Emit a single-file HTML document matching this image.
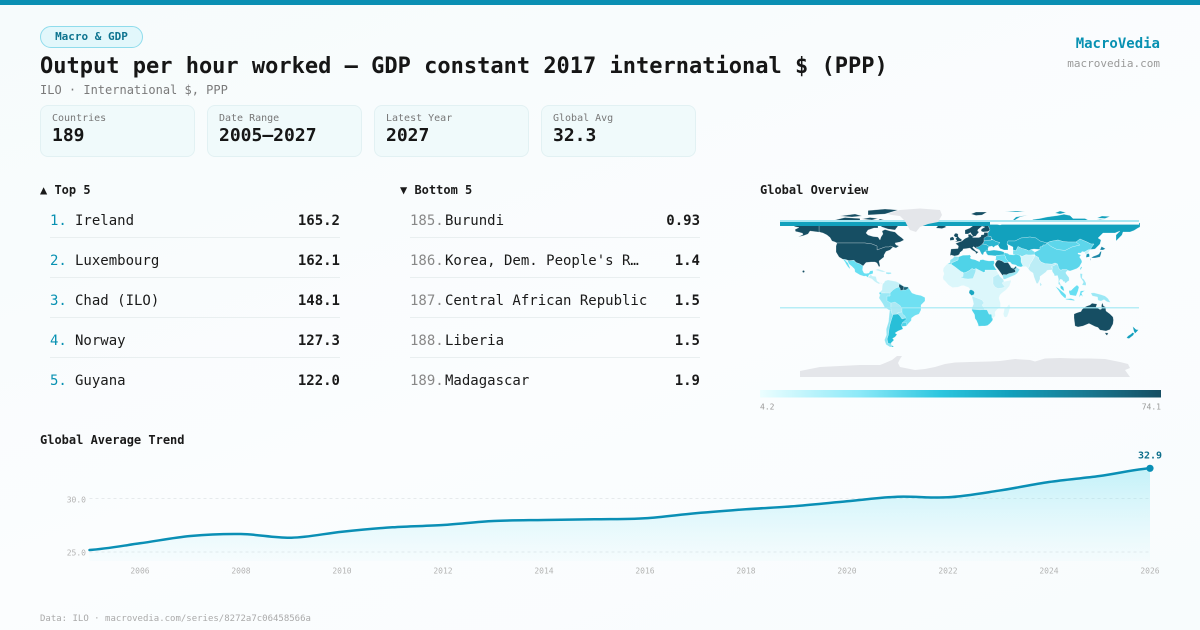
<!DOCTYPE html>
<html><head><meta charset="utf-8">
<style>
*{margin:0;padding:0;box-sizing:border-box}
html,body{width:1200px;height:630px;overflow:hidden}
body{position:relative;background:linear-gradient(160deg,#f6fbfc 0%,#fbfdfe 55%,#f8fcfd 100%);font-family:"DejaVu Sans Mono","Liberation Mono",monospace;color:#1a1a1a}
.a{position:absolute;white-space:nowrap}
.card{position:absolute;top:105px;width:155px;height:52px;background:#f0fafb;border:1px solid #e2f1f3;border-radius:8px}
.card .l{position:absolute;left:11px;top:8px;font-size:10px;line-height:10px;color:#777}
.card .v{position:absolute;left:11px;top:21px;font-size:18px;line-height:18px;font-weight:bold;color:#161616}
.row{position:absolute;height:14px;font-size:14px;line-height:14px}
.div{position:absolute;height:1px;background:#e9eff0}
.h{font-size:12px;line-height:12px;font-weight:bold;color:#1a1a1a}
</style></head><body>
<div class="a" style="left:0;top:0;width:1200px;height:5px;background:#0a8fb3"></div>

<div class="a" style="left:40px;top:26px;width:103px;height:22px;border:1px solid #8fdcec;background:#e2f7fb;border-radius:11px;font-size:11px;line-height:20px;font-weight:bold;color:#0e7490;text-align:center">Macro &amp; GDP</div>
<div class="a" style="left:40px;top:56px;font-size:22px;line-height:22px;font-weight:bold;color:#161616">Output per hour worked — GDP constant 2017 international $ (PPP)</div>
<div class="a" style="left:40px;top:83.5px;font-size:12px;line-height:12px;color:#7a7a7a">ILO · International $, PPP</div>

<div class="a" style="right:40px;top:36.5px;font-size:14px;line-height:14px;font-weight:bold;color:#0891b2">MacroVedia</div>
<div class="a" style="right:40px;top:58px;font-size:11px;line-height:11px;color:#9a9a9a">macrovedia.com</div>

<div class="card" style="left:40px"><div class="l">Countries</div><div class="v">189</div></div>
<div class="card" style="left:207px"><div class="l">Date Range</div><div class="v">2005–2027</div></div>
<div class="card" style="left:374px"><div class="l">Latest Year</div><div class="v">2027</div></div>
<div class="card" style="left:541px"><div class="l">Global Avg</div><div class="v">32.3</div></div>

<div class="a h" style="left:40px;top:184px">▲ Top 5</div>
<div class="a h" style="left:400px;top:184px">▼ Bottom 5</div>
<div class="a h" style="left:760px;top:184px">Global Overview</div>
<div class="a h" style="left:40px;top:434px">Global Average Trend</div>

<!-- top 5 -->
<div class="row" style="left:50px;top:214px;color:#0891b2">1.</div><div class="row" style="left:75px;top:214px">Ireland</div><div class="row" style="right:860px;top:214px;font-weight:bold">165.2</div>
<div class="div" style="left:50px;top:237px;width:290px"></div>
<div class="row" style="left:50px;top:254px;color:#0891b2">2.</div><div class="row" style="left:75px;top:254px">Luxembourg</div><div class="row" style="right:860px;top:254px;font-weight:bold">162.1</div>
<div class="div" style="left:50px;top:277px;width:290px"></div>
<div class="row" style="left:50px;top:294px;color:#0891b2">3.</div><div class="row" style="left:75px;top:294px">Chad (ILO)</div><div class="row" style="right:860px;top:294px;font-weight:bold">148.1</div>
<div class="div" style="left:50px;top:317px;width:290px"></div>
<div class="row" style="left:50px;top:334px;color:#0891b2">4.</div><div class="row" style="left:75px;top:334px">Norway</div><div class="row" style="right:860px;top:334px;font-weight:bold">127.3</div>
<div class="div" style="left:50px;top:357px;width:290px"></div>
<div class="row" style="left:50px;top:374px;color:#0891b2">5.</div><div class="row" style="left:75px;top:374px">Guyana</div><div class="row" style="right:860px;top:374px;font-weight:bold">122.0</div>

<!-- bottom 5 -->
<div class="row" style="left:410px;top:214px;color:#888">185.</div><div class="row" style="left:445px;top:214px">Burundi</div><div class="row" style="right:500px;top:214px;font-weight:bold">0.93</div>
<div class="div" style="left:410px;top:237px;width:290px"></div>
<div class="row" style="left:410px;top:254px;color:#888">186.</div><div class="row" style="left:445px;top:254px">Korea, Dem. People's R…</div><div class="row" style="right:500px;top:254px;font-weight:bold">1.4</div>
<div class="div" style="left:410px;top:277px;width:290px"></div>
<div class="row" style="left:410px;top:294px;color:#888">187.</div><div class="row" style="left:445px;top:294px">Central African Republic</div><div class="row" style="right:500px;top:294px;font-weight:bold">1.5</div>
<div class="div" style="left:410px;top:317px;width:290px"></div>
<div class="row" style="left:410px;top:334px;color:#888">188.</div><div class="row" style="left:445px;top:334px">Liberia</div><div class="row" style="right:500px;top:334px;font-weight:bold">1.5</div>
<div class="div" style="left:410px;top:357px;width:290px"></div>
<div class="row" style="left:410px;top:374px;color:#888">189.</div><div class="row" style="left:445px;top:374px">Madagascar</div><div class="row" style="right:500px;top:374px;font-weight:bold">1.9</div>

<svg class="a" style="left:0;top:0" width="1200" height="630" viewBox="0 0 1200 630" xmlns="http://www.w3.org/2000/svg">
<defs>
<linearGradient id="cb" x1="0" y1="0" x2="1" y2="0">
<stop offset="0" stop-color="#ecfeff"/><stop offset="0.25" stop-color="#8be9f8"/><stop offset="0.45" stop-color="#2cc6df"/><stop offset="0.62" stop-color="#12a1bd"/><stop offset="0.8" stop-color="#187c94"/><stop offset="1" stop-color="#164e63"/>
</linearGradient>
<linearGradient id="af" gradientUnits="userSpaceOnUse" x1="0" y1="468" x2="0" y2="561">
<stop offset="0" stop-color="#5fdcef" stop-opacity="0.35"/><stop offset="1" stop-color="#8ee9f7" stop-opacity="0.04"/>
</linearGradient>
</defs>

<!-- MAP -->
<g transform="translate(960,292) scale(1,-1)" stroke="#ffffff" stroke-width="0.25" stroke-linejoin="round">
<polygon fill="#e4e6ea" stroke="none" points="-160,-85 -160,-79 -150,-77 -140,-75 -120,-74 -100,-73 -80,-73 -75,-71 -68,-68 -63,-64 -58,-64 -60,-67 -62,-71 -60,-75 -45,-78 -35,-77 -25,-75 -15,-72 -5,-70.5 10,-70 30,-69.5 40,-69 55,-67 70,-68 75,-69.5 85,-66.5 100,-66 115,-66.5 130,-66.5 145,-67 160,-70 168,-72 170,-76 165,-78 170,-85"/>
<polygon fill="#164e63" points="-95,68 -90,68 -82,67 -82,64 -86,64 -92,62 -94,59 -92,57 -87,55.5 -82,55 -80,52 -79,55 -77,58 -78,61 -75,62.5 -70,61 -65,60 -62,57 -58,54 -56,52 -60,50 -65,49 -64,47 -61,46 -64,44 -67,45 -70,46 -71,45 -75,45 -79,43.5 -83,42 -83,46 -88,48 -95,49 -123,49 -125,50 -128,51 -130,54.5 -133,57 -137,59 -141,60 -141,69.6 -135,69 -128,70 -118,69 -108,68 -98,68"/>
<polygon fill="#164e63" points="-80,73 -68,70 -62,66 -65,62 -72,63 -78,65 -85,70"/>
<polygon fill="#164e63" points="-125,72 -115,74.5 -100,73.5 -100,69.5 -110,68.5 -118,70"/>
<polygon fill="#164e63" points="-92,77 -75,78 -62,82 -75,83 -92,81.5"/>
<polygon fill="#164e63" points="-120,76 -105,78 -98,76 -108,75"/>
<polygon fill="#164e63" points="-98,73 -90,74.5 -82,73.5 -88,72"/>
<polygon fill="#164e63" points="-123,49 -95,49 -88,48 -83,46 -83,42 -79,43.5 -75,45 -71,45 -70,46 -67,45 -70,42 -74,40.5 -76,37 -76,35 -81,31 -80,26 -81,25 -83,29 -85,30 -89,30 -94,29.5 -97,26 -100,28 -104,29.5 -106,31.8 -111,31.3 -115,32.6 -117,32.6 -121,35 -124,40 -124,46"/>
<polygon fill="#164e63" points="-141,60 -141,69.6 -150,70.4 -156,71.3 -162,70 -166,68.5 -164,67 -166,65.5 -161,64.5 -165,62.5 -164.5,60.5 -162,60 -157.5,58.8 -157,57.5 -162,55 -156,56.5 -152,58 -150,61 -146,60.5 -140,59.7"/>
<circle cx="-156.5" cy="20.5" r="1" fill="#164e63" stroke="none"/>
<polygon fill="#67dff2" points="-117,32.6 -115,32.6 -111,31.3 -106,31.8 -104,29.5 -100,28 -97,26 -97.5,22 -96,19 -94,18.5 -91,19 -90,21 -87,21.5 -87,18.5 -89,17.8 -91,17.2 -92,14.5 -94,16 -96,15.7 -100,17 -105,20 -105.5,23 -108,25.5 -111,28 -112.7,31.5 -114.8,31.8 -112,29 -110,24 -110,23 -112,25 -114,28 -115,30"/>
<polygon fill="#c4f1f8" points="-92,14.5 -89,17.8 -88,16 -84,15.5 -83,11 -80,9 -77.5,8 -79,9.5 -81,8 -84,9.5 -86,11 -88,13"/>
<polygon fill="#c4f1f8" points="-85,22 -82,23 -77,21.5 -74,20 -78,20 -83,21.5"/>
<polygon fill="#9be8f5" points="-74,19.8 -69,19.5 -68.5,18.3 -71.5,17.8 -74,18.3"/>
<polygon fill="#6fe0f2" points="-80,0 -78,2 -77.5,7 -77,8.5 -76,9 -75,11 -72,12 -64,10.5 -60,8.5 -57,6 -52,5 -50,2 -48,-1 -44,-2.5 -39,-3.5 -35,-5.5 -35,-9 -39,-13 -39,-18 -41,-22 -45,-23.5 -48.5,-26 -48.7,-28.5 -52,-32 -53.5,-34 -58,-34.5 -57,-37 -62,-39 -65,-41 -63,-42.5 -65,-45 -67.5,-46.5 -66,-48 -69,-51 -68.5,-53 -66,-55 -70,-55 -74,-52.5 -75.5,-48 -73.5,-43 -73.7,-37 -71.5,-30 -70.3,-18.5 -75.5,-15 -77,-12 -81,-6 -80,-3 -81,-1"/>
<polygon fill="#c4f1f8" points="-80,0 -78,2 -77.5,7 -77,8.5 -76,9 -75,11 -72,12 -64,10.5 -60,8.5 -61,5 -64,4 -67,2 -70,-1 -70,-4 -73,-4 -75,-1 -78,-1"/>
<polygon fill="#9be8f5" points="-81,-6 -77,-12 -75.5,-15 -70.3,-18.5 -69,-15 -69,-11 -73,-9 -73,-4 -70,-4 -70,-1 -75,-1 -78,-1 -80,-3"/>
<polygon fill="#aee9f4" points="-69,-11 -65,-10 -60,-13.5 -58,-16.5 -58,-20 -62,-20.5 -62,-22 -67,-22.5 -68.2,-21.5 -69,-18 -69,-15"/>
<polygon fill="#9be8f5" points="-62,-20.5 -58,-20 -57.5,-22 -55,-24 -54.5,-26 -58,-27 -60,-24 -62,-22"/>
<polygon fill="#28bfd8" points="-62,-22 -60,-24 -58,-27 -54.5,-26 -53.7,-27.2 -57.5,-30.5 -58.4,-33 -58,-34.5 -57,-37 -62,-39 -65,-41 -63,-42.5 -65,-45 -67.5,-46.5 -66,-48 -69,-51 -68.5,-53 -66,-55 -68.5,-55 -68.5,-52 -72,-51.5 -73,-47 -71.7,-43 -71,-37 -70,-32 -68.5,-27 -67,-22.5"/>
<polygon fill="#8fe4f2" points="-70.3,-18.5 -69,-18 -68.2,-21.5 -67,-22.5 -68.5,-27 -70,-32 -71,-37 -71.7,-43 -73,-47 -72,-51.5 -68.5,-52 -68.5,-55 -70,-55 -74,-52.5 -75.5,-48 -73.5,-43 -73.7,-37 -71.5,-30"/>
<polygon fill="#4fd3e8" points="-58,-34.5 -58.4,-33 -57.5,-30.5 -53.7,-30.5 -53.5,-34"/>
<polygon fill="#164e63" points="-61,8 -57,6 -56,5 -57,2 -59.5,1.5 -60,4 -61,5"/>
<polygon fill="#1a6a80" points="-56,5 -52,5 -51.5,4 -54,2 -57,2"/>
<polygon fill="#164e63" points="-10,36 -9,43 -2,43.5 -1.5,46 -4.5,48.5 2,51 5,53.5 8.5,55 8,57.5 10.5,57.7 12,56 14,55.5 12.5,54.5 19,54.5 21,55.5 21,57 24,57.5 24,59.5 28,59.5 28,56 31,52 24,51.5 24,50 22.5,48 26,47.5 29,45.5 28,44 28,41.5 26,40.5 24,40 23,37 21.5,38 19.5,42 15.5,44 13.5,45.5 12.5,44.5 16,41 18.5,40 16,38 15.5,40 12,42 10,44 7,43.5 3,43 3,42 0,39.5 -0.5,38 -2,36.7 -5.5,36 -9,37"/>
<polygon fill="#2bb6d0" points="22.5,48 24,50 24,51.5 31,52 33,52.3 36,50.5 40,49.5 38,47 35,46 33.5,44.5 32,46 30,45.5 29,45.5 26,47.5"/>
<polygon fill="#1b95b3" points="24,51.5 24,54 27,55.7 28,56 31,55.5 31.5,53 31,52"/>
<polygon fill="#2bb6d0" points="19.5,42 21.5,38 23,37 24,40 26,40.5 28,41.5 28,44 29,45.5 26,47.5 22.5,48 20,46 18,45 16,45"/>
<polygon fill="#164e63" points="5,58 5,62 10,64 14,67 18,69.5 24,71 30,70.5 29,69 28.5,66 30,62 28,60.5 23,60 21,61 21.5,63 25,65 22,65.8 18,62.5 17.5,61 19,60 16.5,57 16,56 13,55.5 12.5,56.5 11,58.5 10.5,59.5 8,58"/>
<polygon fill="#164e63" points="-5.5,50 1.5,51 1.7,52.7 0,53.5 -1.5,55 -2,56 -1.8,57.6 -3,58.6 -5,58.6 -6.2,56.5 -5,55 -3,54.5 -4.5,53.3 -3,51.4"/>
<polygon fill="#164e63" points="-10,51.5 -6,52 -6,54 -7.5,55.3 -10,54.2"/>
<polygon fill="#164e63" points="-24,64 -22,66.3 -16,66.5 -13.5,65 -18,63.4"/>
<polygon fill="#164e63" points="11,78 16,80 27,80 22,77 16,76.5"/>
<polygon fill="#12a1bd" points="28,56 28,59.5 30,62 28.5,66 29,69 30,69.5 40,67 44,68.5 55,68.5 60,69.5 68,69 73,72.5 80,73.5 87,75 98,76.5 104,77.7 110,76.5 113,73.5 125,73.5 130,71 140,72.5 150,71.5 160,69.7 170,70 180,69 180,65 178,64 174,61.5 170,60 163,60 162,57 156,51 156,57 160,61 155,59 143,59 138,54 141,52 140,48 135,43 131,42.5 131,44 134,48 131,48 127,50 120,53 116,50 108,50 103,50.5 98,52 90,50.5 87,49 80,51 76,54 70,55 61,54 55,51 48,51 47,48 48,46 48,42 44,42 40,43.5 38,47 40,49.5 36,50.5 33,52.3 31.5,53 31,55.5"/>
<polygon fill="#12a1bd" points="52,71 56,75 68,77 60,75 55,72"/>
<polygon fill="#12a1bd" points="95,79 100,81 106,79.5 100,78"/>
<polygon fill="#12a1bd" points="137,74 142,76 150,75.5 145,73.5"/>
<polygon fill="#12a1bd" points="45,80 55,81 65,81 58,80"/>
<polygon fill="#1fabc6" points="47,48 50,46.5 53,45 53,42 56,41.3 58,45.5 61,44 62,43.5 66,42.5 69,41 71,42.5 74,43 80,42.5 80,45 82.5,45.5 83,47 85.5,47 87,49 80,51 76,54 70,55 61,54 55,51 48,51"/>
<polygon fill="#7be0f0" points="53,42 53,37.5 60,36.5 62,35.5 66,37.3 68,37 71,37 75,37.5 75,40 71,42.5 69,41 66,42.5 62,43.5 61,44 58,45.5 56,41.3"/>
<polygon fill="#5dd6eb" points="87,49 90,50.5 98,52 103,50.5 108,50 116,50 120,47 116,46 112,45 105,41.5 97,42.5 91,45.5"/>
<polygon fill="#5dd6eb" points="74,39 75,40 80,42.5 80,45 82.5,45.5 83,47 85.5,47 87,49 91,45.5 97,42.5 105,41.5 112,45 116,46 120,47 116,50 120,53 127,50 131,48 134,48 131,44 131,42.5 128,42 124.5,40 122,40.5 121,39 118,39 118,38 121,37 119.5,35 121.5,32 122,30 119.5,25.5 117,23.5 113,22 110,21 108,21.6 106.5,22.5 102,22.5 101,21.5 98.5,24 97.5,28 95,29 92,27.8 89,28 85,28.3 81,30 79,32.5 78.5,34.5 75,36.5"/>
<polygon fill="#c4f1f8" points="124.5,40 128,42 130,42.5 129.5,41 128,39 126,37.8 125,38.5"/>
<polygon fill="#1596b5" points="126,34.5 129.5,35.2 129.4,37.5 128.3,38.6 126.5,37.7"/>
<polygon fill="#1a86a6" points="130,31 131,34 135,34 140,35 141,38 141.5,41 140,40 139,38 137,37 133,35.5 130,33"/>
<polygon fill="#1a86a6" points="140,42 141.5,45.5 145.5,43.3 143,42"/>
<polygon fill="#4fd3e8" points="120.1,23 121,25.3 122,25 120.8,22"/>
<polygon fill="#bcedf6" points="68,23.5 70,21 73,19 74,15 76.5,8.5 78,8.5 80,13 80,15.5 82,17 86,20 87,21.5 89,22 92,22 92.5,24.5 91,25 95,27 97,28 95,29 92,27.8 89,28 85,28.3 81,30 79,32.5 78.5,34.5 75,36.5 74,34.5 72,31 70,28 69.5,26"/>
<polygon fill="#d4f5fa" points="61,25 66,25.5 68,23.5 69.5,26 70,28 72,31 74,34.5 75,36.5 71,37 68,37 66,37.3 62,35.5 60,36.5 61,34 61,30 63,26"/>
<polygon fill="#bcedf6" points="80,9.8 81.8,7.5 81,6 80,6.2 79.8,8"/>
<polygon fill="#4fd3e8" points="44,39.5 48,38.5 49,37.5 54,37 56,38 60,36.5 61,34 61,30 63,26 61,25 57.5,25.7 56,27 52,27.8 50,30 48,30 48,31 46,33 45.5,35.5 44,37"/>
<polygon fill="#2fbbd4" points="26,40 26,42 29,41.2 34,42 41,41 44,40 44,37 42,37 36,36.5 36,36 32,36.5 28,36.7 26.5,38.5"/>
<polygon fill="#67dff2" points="35.8,33 36,36 36,36.5 42,37 44,37 45.5,35.5 46,33 48,31 48,30 47,29 44.5,29.2 42,31 39,32 37,31.5 35,32.5"/>
<polygon fill="#9be8f5" points="35,28 35.5,26 39,21.5 42.5,16.5 43.5,12.7 45,12.8 52,15.8 55,17 57.5,19 59.8,22.5 56.5,24.8 56,26 54,24 51.5,24.5 51,26.5 50,26.5 48,29.5 44.5,29.2 42,31 39,32 37,31.5"/>
<polygon fill="#164e63" points="35,28 37,31.5 39,32 42,31 44.5,29.2 48,29.5 50,26.5 51,24.5 55,22.5 55.5,20 52,19 49,18.5 46.5,17.3 43.3,17.5 42.5,16.5 39,21.5 35.5,26"/>
<polygon fill="#1a6a80" points="51.5,24.5 54,24 56,26 56.5,24.8 55,22.5"/>
<polygon fill="#9be8f5" points="92,22 92.5,20 94,18 94.5,16 97.5,16.5 98.5,13 98.5,10 98.3,8 100.5,6.5 100.4,4 101.5,2.8 103.5,1.3 104.2,1.4 103.5,4 103.4,5 102,6 100.5,7.5 100,9.2 99.2,10.5 100,12.5 101,12.7 102.5,12 103,10.5 104.5,10.5 105,8.7 106.5,9.5 107.5,10.5 109.3,11.5 109,14.5 107,17 106,18.5 105.8,19.5 106.5,20.5 108,21.6 106.5,22.5 102,22.5 101,21.5 98.5,24 97.5,28 97,28 95,27 91,25 92.5,24.5"/>
<polygon fill="#4fd3e8" points="100.4,4 101.5,2.8 103.5,1.3 104.2,1.4 103.5,4 103.4,5 102,6 100.5,6.5"/>
<polygon fill="#9be8f5" points="120,18.5 122.5,18.3 122,14 124,12.5 126,9 126,6.5 122,7 123.5,10 120.5,14.5"/>
<polygon fill="#67dff2" points="95.3,5.6 98,4 104,-1 106,-3 106,-6 104.5,-5.9 101,-2.5 98.5,1.5"/>
<polygon fill="#67dff2" points="105,-6.8 111,-6.5 114.5,-7.7 114.5,-8.7 106,-7.5"/>
<polygon fill="#67dff2" points="109,1.5 111,1.5 114,4.5 117,7 119,5 118,1 116,-4 110,-3 109,-0.5"/>
<polygon fill="#67dff2" points="119,-5.5 120.5,1 125,1.5 121.5,-1 123,-5 121,-3"/>
<polygon fill="#9be8f5" points="131,-1 134,-0.8 141,-2.6 145,-4 148,-6.5 150.5,-10.5 147,-9.7 144,-7.6 141,-9.1 138,-8.3 137.5,-5 132.5,-4 131,-1.5"/>
<polygon fill="#dcf7fb" points="-17,21 -16.5,24 -13.5,27.5 -10,29.5 -9.8,32 -6.8,34 -5.9,35.8 -2,35.2 3,36.8 10,37.2 11,35.5 10,34 11.5,33 15,32.3 19.5,30.3 20,32 23,32.5 25,31.7 29,31 32,31.3 34,31.3 34.5,29 33.5,27 35.5,23.5 37,21 38.5,18 40,15.5 43.3,12.5 44,10.5 51,11.9 51,10.5 49.5,6 46,2 42,-1 40,-3 39,-6 39.5,-8 40.5,-11 40.5,-15 37,-17.5 35,-20 35.5,-24 33,-26 32.5,-28.5 30,-31.5 27.5,-33.5 25,-34 22,-34 18.5,-34.2 18,-32 16.5,-28.5 15,-26.5 14.5,-22.5 12,-18.5 11.7,-16.5 13.6,-12 13,-9 12,-6 12,-5 9,-1 9.5,1 9.8,3 8.5,4.5 5,5.8 4,6.4 1.5,6.2 -2,4.8 -7.5,4.4 -11.5,6.9 -13.3,9 -15,11 -16.7,12.4 -17.2,14.7 -16,18 -16.3,19.5"/>
<polygon fill="#bdeef7" points="12,-5 13,-9 13.6,-12 11.7,-16.5 12,-18.5 14,-17.4 20,-17.9 23.3,-17.6 25,-17.8 22,-13 24,-11 22,-8 17,-6 13,-4.5"/>
<polygon fill="#bdeef7" points="33,15 38.5,18 40,15.5 43.3,12.5 44,10.5 42,9 45,5 42,4 38,3.5 35,5 33,8"/>
<polygon fill="#4fd3e8" points="-8.7,27.7 -8.7,29 -2,32 -1.8,35 3,36.8 8.5,36.9 9.5,37.3 11,35.5 10,34 11.5,33 15,32.3 19.5,30.3 20,32 23,32.5 25,31.7 29,31 32,31.3 34,31.3 34.5,29 33.5,27 35.5,23.5 36.9,22 31.5,22 25,22 25,20 24,20 24,19.5 16,23.5 14,22.5 12,23.5 9.5,21.5 5.7,19.5 3.3,19 3,19.8 1,20.5 -4.8,25"/>
<polygon fill="#8fe4f2" points="-13,27.7 -8.7,27.7 -8.7,29 -2,32 -1.8,35 -2,35.2 -5.9,35.8 -6.8,34 -9.8,32 -10,29.5"/>
<polygon fill="#9be8f5" points="0,15 4,13.5 8,13 13,13.5 15.5,20 16,23.5 14,22.5 12,23.5 9.5,21.5 5.7,19.5 3.3,19 3,15.5"/>
<polygon fill="#1aa7c2" points="9.3,1 9.8,2 11.3,2.2 13.5,1.2 14.5,-0.5 14,-2.5 11.5,-3.5 9,-1"/>
<polygon fill="#4fd3e8" points="11.7,-17.2 14,-17.4 20,-17.9 23.3,-17.6 25,-17.8 27,-17.9 29,-22.2 31.5,-22.3 32,-26.5 33,-26 32.5,-28.5 30,-31.5 27.5,-33.5 25,-34 22,-34 18.5,-34.2 18,-32 16.5,-28.5 15,-26.5 14.5,-22.5 12,-18.5"/>
<polygon fill="#dcf7fb" points="49.3,-12 50.5,-15.5 49.5,-17.5 48.8,-20.5 47.2,-24.8 45.2,-25.5 44,-24.5 43.3,-22 44.5,-16 47,-15 48,-13.5"/>
<polygon fill="#164e63" points="114,-22 114,-26 115,-34 118,-35 123,-34 129,-31.5 135,-34.5 138,-35.5 140,-38 146,-39 150,-37.5 153,-32 153.5,-28 153,-25 150,-22 146,-19 145.5,-15 143.5,-14 142.5,-10.7 141.5,-13 141.5,-17 140,-17.5 136,-15 137,-12 132,-11.3 130,-13 127,-14 125,-15 122,-17.5 121,-19.5 117,-20.7"/>
<polygon fill="#164e63" points="145,-40.8 148.3,-41 147,-43.5 145.5,-42"/>
<polygon fill="#14a0be" points="172.7,-34.5 174.5,-36 176,-37.5 178.5,-37.7 177,-39.5 175,-41.5 174,-39.5 173.8,-39"/>
<polygon fill="#14a0be" points="172.5,-40.5 174.3,-41.5 173,-43.5 171,-45 169,-46.6 166.5,-46 168,-44 171,-42"/>
</g>
<rect x="780" y="220" width="359" height="2" fill="#a9e7f2"/>
<rect x="780" y="222" width="210" height="4" fill="#12a1bd"/>
<rect x="990" y="222" width="149" height="2.6" fill="#fbfdfe"/>
<rect x="780" y="307.2" width="359" height="1.2" fill="#a5e9f4"/>
<g transform="translate(960,292) scale(1,-1)">
<polygon fill="#e4e6ea" points="-73,78 -60,82 -40,83.5 -20,82 -18,77 -22,70 -32,68 -40,65 -44,60 -50,62 -53,67 -55,71 -60,76 -68,77"/>
</g>
<rect x="760" y="390" width="401" height="7.5" fill="url(#cb)"/>
<text x="760" y="407" font-family="DejaVu Sans Mono, monospace" font-size="8" fill="#999" dominant-baseline="central">4.2</text>
<text x="1161" y="407" font-family="DejaVu Sans Mono, monospace" font-size="8" fill="#999" text-anchor="end" dominant-baseline="central">74.1</text>

<line x1="89.5" y1="498.5" x2="1150" y2="498.5" stroke="#e6eaec" stroke-width="1" stroke-dasharray="3,3"/>
<line x1="89.5" y1="552" x2="1150" y2="552" stroke="#e6eaec" stroke-width="1" stroke-dasharray="3,3"/>
<path fill="url(#af)" d="M89.5,550 C106.33,548.88 123.17,545.63 140,543.3 C156.83,540.97 173.67,537.55 190.5,536 C207.33,534.45 224.17,533.72 241,534 C257.83,534.28 274.67,538.08 291.5,537.7 C308.33,537.32 325.17,533.43 342,531.7 C358.83,529.97 375.67,528.42 392.5,527.3 C409.33,526.18 426.17,526.05 443,525 C459.83,523.95 476.67,521.83 493.5,521 C510.33,520.17 527.17,520.28 544,520 C560.83,519.72 577.67,519.58 594.5,519.3 C611.33,519.02 628.17,519.3 645,518.3 C661.83,517.3 678.67,514.8 695.5,513.3 C712.33,511.8 729.17,510.52 746,509.3 C762.83,508.08 779.67,507.33 796.5,506 C813.33,504.67 830.17,502.85 847,501.3 C863.83,499.75 880.67,497.37 897.5,496.7 C914.33,496.03 931.17,498.3 948,497.3 C964.83,496.3 981.67,493.25 998.5,490.7 C1015.33,488.15 1032.17,484.45 1049,482 C1065.83,479.55 1082.67,478.28 1099.5,476 C1116.33,473.72 1133.17,469.58 1150,468.3 L1150,561 L89.5,561 Z"/>
<path fill="none" stroke="#0a8fb5" stroke-width="2.5" stroke-linecap="round" stroke-linejoin="round" d="M89.5,550 C106.33,548.88 123.17,545.63 140,543.3 C156.83,540.97 173.67,537.55 190.5,536 C207.33,534.45 224.17,533.72 241,534 C257.83,534.28 274.67,538.08 291.5,537.7 C308.33,537.32 325.17,533.43 342,531.7 C358.83,529.97 375.67,528.42 392.5,527.3 C409.33,526.18 426.17,526.05 443,525 C459.83,523.95 476.67,521.83 493.5,521 C510.33,520.17 527.17,520.28 544,520 C560.83,519.72 577.67,519.58 594.5,519.3 C611.33,519.02 628.17,519.3 645,518.3 C661.83,517.3 678.67,514.8 695.5,513.3 C712.33,511.8 729.17,510.52 746,509.3 C762.83,508.08 779.67,507.33 796.5,506 C813.33,504.67 830.17,502.85 847,501.3 C863.83,499.75 880.67,497.37 897.5,496.7 C914.33,496.03 931.17,498.3 948,497.3 C964.83,496.3 981.67,493.25 998.5,490.7 C1015.33,488.15 1032.17,484.45 1049,482 C1065.83,479.55 1082.67,478.28 1099.5,476 C1116.33,473.72 1133.17,469.58 1150,468.3"/>
<circle cx="1150" cy="468.3" r="3.6" fill="#0a8fb5"/>
<text x="1150" y="456" font-family="DejaVu Sans Mono, monospace" font-size="10" font-weight="bold" fill="#0e6f8c" text-anchor="middle" dominant-baseline="central">32.9</text>
<g font-family="DejaVu Sans Mono, monospace" font-size="8" fill="#b3b3b3" dominant-baseline="central">
<text x="86" y="500" text-anchor="end">30.0</text>
<text x="86" y="553" text-anchor="end">25.0</text>
<g text-anchor="middle">
<text x="140" y="571">2006</text><text x="241" y="571">2008</text><text x="342" y="571">2010</text><text x="443" y="571">2012</text><text x="544" y="571">2014</text><text x="645" y="571">2016</text><text x="746" y="571">2018</text><text x="847" y="571">2020</text><text x="948" y="571">2022</text><text x="1049" y="571">2024</text><text x="1150" y="571">2026</text>
</g>
</g>
<text x="40" y="619" font-family="DejaVu Sans Mono, monospace" font-size="9" fill="#aaaaaa" dominant-baseline="central">Data: ILO · macrovedia.com/series/8272a7c06458566a</text>
</svg>
</body></html>
